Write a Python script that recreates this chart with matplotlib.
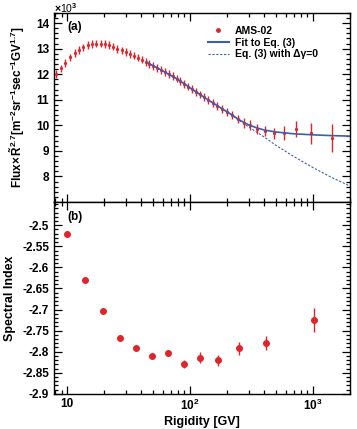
import matplotlib
matplotlib.use('Agg')
import matplotlib.pyplot as plt
from matplotlib.lines import Line2D
from matplotlib.ticker import MultipleLocator, LogLocator, FixedLocator, FixedFormatter, NullFormatter

plt.rcParams['font.family'] = ['Liberation Sans', 'DejaVu Sans']
plt.rcParams['font.weight'] = 'bold'
plt.rcParams['mathtext.fontset'] = 'custom'
plt.rcParams['mathtext.rm'] = 'Liberation Sans:bold'
plt.rcParams['mathtext.bf'] = 'Liberation Sans:bold'
plt.rcParams['mathtext.it'] = 'Liberation Sans:bold'

# (a) AMS-02 proton flux x R^2.7 (units of 10^3)
rigidity = [8.11, 8.86, 9.67, 10.54, 11.49, 12.49, 13.54, 14.69, 15.94, 17.29,
            18.73, 20.28, 21.93, 23.73, 25.68, 27.73, 29.93, 32.28, 34.78, 37.47,
            40.37, 43.47, 46.77, 50.32, 54.12, 58.16, 62.51, 67.21, 72.25, 77.65,
            83.45, 89.69, 96.4, 103.9, 111.9, 120.4, 129.9, 140.9, 153.4, 167.3,
            183.3, 201.3, 221.7, 245.6, 274.5, 309.9, 353.7, 408.8, 481.3, 581.0,
            727.0, 963.8, 1426.0]
flux = [12.00, 12.23, 12.43, 12.66, 12.82, 12.95, 13.05, 13.14, 13.18, 13.20,
        13.20, 13.19, 13.14, 13.08, 12.99, 12.93, 12.86, 12.79, 12.73, 12.65,
        12.57, 12.49, 12.41, 12.33, 12.25, 12.17, 12.09, 12.01, 11.93, 11.83,
        11.73, 11.63, 11.52, 11.42, 11.31, 11.21, 11.10, 10.99, 10.87, 10.76,
        10.64, 10.52, 10.40, 10.25, 10.10, 10.00, 9.87, 9.78, 9.69, 9.70,
        9.86, 9.69, 9.50]
flux_err = [0.15] * 44 + [0.2, 0.2, 0.2, 0.18, 0.21, 0.26, 0.31, 0.4, 0.55]

fit_R = [45, 60, 80, 100, 130, 170, 220, 250, 300, 350, 400, 500, 700, 1000, 1400, 2000]
fit_flux = [12.45, 12.13, 11.79, 11.47, 11.10, 10.74, 10.41, 10.22, 10.02, 9.90,
            9.82, 9.74, 9.67, 9.63, 9.60, 9.58]
nobreak_R = [45, 60, 80, 100, 130, 170, 220, 250, 300, 350, 400, 500, 700, 1000, 1400, 2000]
nobreak_flux = [12.45, 12.13, 11.79, 11.47, 11.10, 10.74, 10.39, 10.20, 9.94, 9.73,
                9.55, 9.22, 8.78, 8.35, 7.98, 7.63]

# (b) spectral index
index_R = [9.94, 14.0, 19.4, 27.0, 36.4, 49.3, 66.7, 89.3, 120.5, 170, 250, 415, 1018]
index_val = [-2.521, -2.631, -2.703, -2.768, -2.792, -2.811, -2.802, -2.829,
             -2.814, -2.820, -2.792, -2.779, -2.725]
index_err = [0.003, 0.003, 0.003, 0.003, 0.004, 0.005, 0.006, 0.009,
             0.013, 0.013, 0.016, 0.016, 0.029]

red = '#e0242c'
blue = '#3e5ea8'


def style_axis(ax):
    ax.set_xscale('log')
    ax.set_xlim(7.8, 2000)
    ax.tick_params(which='both', direction='in', top=True, right=True,
                   labelsize=8.5, width=0.9)
    ax.tick_params(which='major', length=6)
    ax.tick_params(which='minor', length=3)
    ax.xaxis.set_major_locator(FixedLocator([10, 100, 1000]))
    ax.xaxis.set_minor_locator(LogLocator(base=10, subs=range(2, 10)))
    ax.xaxis.set_minor_formatter(NullFormatter())
    for s in ax.spines.values():
        s.set_linewidth(1.0)


fig = plt.figure(figsize=(3.57, 4.29), dpi=100)
ax1 = fig.add_axes([0.151, 0.529, 0.829, 0.441])
ax2 = fig.add_axes([0.151, 0.082, 0.829, 0.447])

style_axis(ax1)
ax1.errorbar(rigidity, flux, yerr=flux_err, fmt='o', ms=1.3, color=red,
             elinewidth=1.0, capsize=0, zorder=3)
ax1.plot(fit_R, fit_flux, color=blue, lw=1.2, zorder=4)
ax1.plot(nobreak_R, nobreak_flux, color=blue, lw=0.8, ls=(0, (2, 1.5)), zorder=2)
ax1.set_ylim(7, 14.4)
ax1.yaxis.set_major_locator(MultipleLocator(1))
ax1.yaxis.set_minor_locator(MultipleLocator(0.2))
ax1.set_yticks(range(8, 15))
ax1.xaxis.set_major_formatter(NullFormatter())
ax1.set_ylabel(r'Flux$\times\,\tilde{R}^{2.7}$[m$^{-2}$sr$^{-1}$sec$^{-1}$GV$^{1.7}$]',
               fontsize=8.5, fontweight='bold', labelpad=6)
ax1.text(0.045, 0.955, '(a)', transform=ax1.transAxes, fontsize=8.5,
         fontweight='bold', va='top')
fig.text(0.151, 0.997, r'$\times$10$^{3}$', fontsize=7.5, fontweight='normal', va='top')

handles = [Line2D([], [], marker='o', ms=2.5, color=red, ls='none'),
           Line2D([], [], color=blue, lw=1.5),
           Line2D([], [], color=blue, lw=0.8, ls=(0, (2, 1.5)))]
labels = ['AMS-02', 'Fit to Eq. (3)', 'Eq. (3) with Δγ=0']
ax1.legend(handles, labels, loc='upper left', bbox_to_anchor=(0.52, 0.93),
           frameon=False, fontsize=7.5, handlelength=2.0, handletextpad=0.6,
           labelspacing=0.15, borderpad=0, borderaxespad=0)

style_axis(ax2)
ax2.errorbar(index_R, index_val, yerr=index_err, fmt='o', ms=4, color=red,
             elinewidth=1.0, capsize=0, zorder=3)
ax2.set_ylim(-2.9, -2.445)
ax2.yaxis.set_major_locator(FixedLocator([-2.9, -2.85, -2.8, -2.75, -2.7, -2.65,
                                          -2.6, -2.55, -2.5]))
ax2.yaxis.set_major_formatter(FixedFormatter(['-2.9', '-2.85', '-2.8', '-2.75', '-2.7',
                                              '-2.65', '-2.6', '-2.55', '-2.5']))
ax2.yaxis.set_minor_locator(MultipleLocator(0.01))
ax2.xaxis.set_major_formatter(FixedFormatter(['10', r'10$^{2}$', r'10$^{3}$']))
ax2.tick_params(axis='x', pad=3)
ax2.set_ylabel('Spectral Index', fontsize=9, fontweight='bold', labelpad=4)
ax2.set_xlabel('Rigidity [GV]', fontsize=9, fontweight='bold')
ax2.xaxis.set_label_coords(0.5, -0.115)
ax2.text(0.045, 0.955, '(b)', transform=ax2.transAxes, fontsize=8.5,
         fontweight='bold', va='top')

fig.savefig('out.png', dpi=100)
